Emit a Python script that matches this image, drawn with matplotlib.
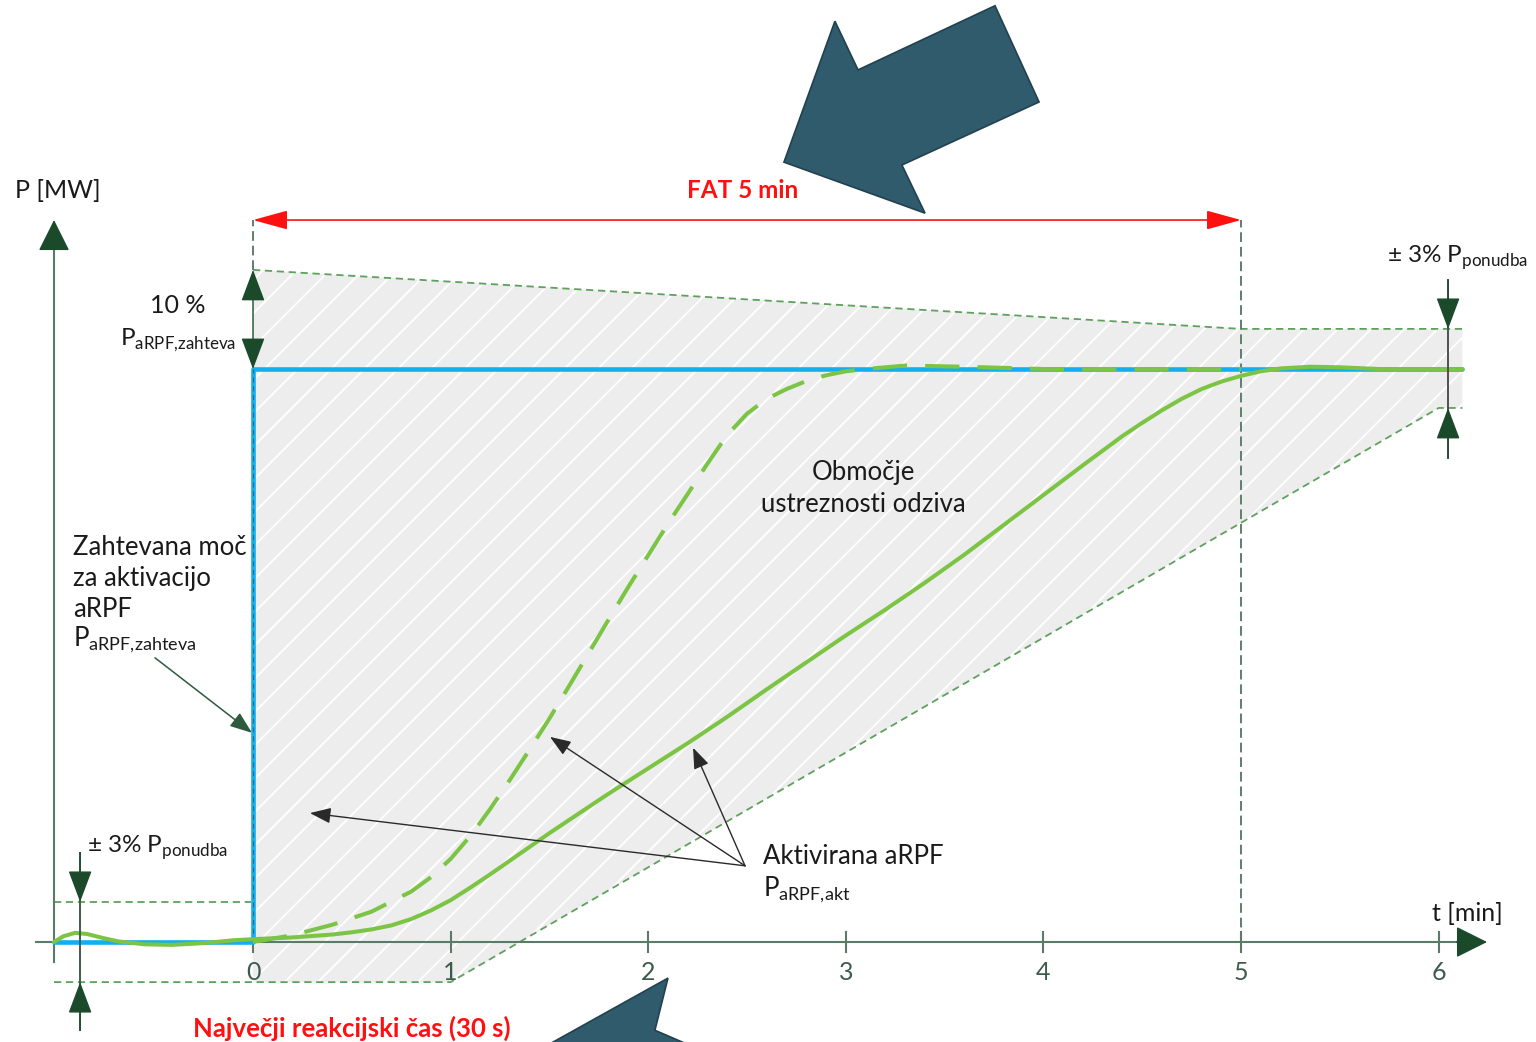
import matplotlib
matplotlib.use("Agg")
import matplotlib.pyplot as plt
from matplotlib.patches import Polygon

plt.rcParams['font.family'] = ['Lato', 'DejaVu Sans']
plt.rcParams['hatch.color'] = 'white'
plt.rcParams['hatch.linewidth'] = 1.3

# time axis [min]
ticks = [0, 1, 2, 3, 4, 5, 6]
tick_labels = ['0', '1', '2', '3', '4', '5', '6']

# requested power (normalised, 1 = P_aRPF,zahteva)
req_t = [-1.007, 0.0, 0.0, 6.12]
req_p = [0.0, 0.0, 1.0, 1.0]

# activated power, solid curve
act_t = [-1.007, -0.96, -0.9, -0.84, -0.76, -0.68, -0.55, -0.41, -0.25, -0.1, 0.0,
         0.2, 0.4, 0.5, 0.6, 0.7, 0.8, 0.9, 1.0, 1.1, 1.2, 1.3, 1.4, 1.5, 1.6, 1.8,
         2.0, 2.2, 2.4, 2.6, 2.8, 3.0, 3.2, 3.4, 3.6, 3.8, 4.0, 4.2, 4.4, 4.5, 4.6,
         4.7, 4.8, 4.9, 5.0, 5.1, 5.2, 5.35, 5.5, 5.7, 6.12]
act_p = [0.0, 0.01, 0.016, 0.014, 0.007, 0.001, -0.004, -0.005, -0.002, 0.003, 0.005,
         0.008, 0.013, 0.017, 0.022, 0.029, 0.04, 0.055, 0.073, 0.095, 0.118, 0.142,
         0.166, 0.19, 0.213, 0.259, 0.303, 0.347, 0.393, 0.441, 0.488, 0.535, 0.58,
         0.627, 0.676, 0.728, 0.78, 0.832, 0.883, 0.906, 0.928, 0.948, 0.965, 0.978,
         0.988, 0.996, 1.001, 1.004, 1.003, 1.0, 1.0]

# activated power, fast response (dashed)
fast_t = [0.0, 0.2, 0.4, 0.6, 0.8, 0.9, 1.0, 1.1, 1.2, 1.3, 1.4, 1.5, 1.6, 1.7, 1.8,
          1.9, 2.0, 2.1, 2.2, 2.3, 2.4, 2.5, 2.6, 2.7, 2.8, 2.9, 3.0, 3.1, 3.3, 3.6,
          4.0, 5.0]
fast_p = [0.0, 0.012, 0.03, 0.053, 0.088, 0.113, 0.145, 0.185, 0.232, 0.283, 0.336,
          0.39, 0.447, 0.505, 0.563, 0.62, 0.675, 0.73, 0.782, 0.835, 0.885, 0.922,
          0.948, 0.965, 0.979, 0.989, 0.996, 1.0, 1.006, 1.004, 1.0, 1.0]

# tolerance area
band_t = [0, 5, 6.12, 6.12, 6.0, 1, 0]
band_p = [1.173, 1.07, 1.07, 0.932, 0.932, -0.07, -0.07]
upper_t = [0, 5, 6.12]
upper_p = [1.173, 1.07, 1.07]
lower_t = [-1.007, 1, 6.0, 6.12]
lower_p = [-0.07, -0.07, 0.932, 0.932]
pre_t = [-1.007, -0.01]
pre_p = [0.07, 0.07]

fat_level = 1.26

AX = '#5B7B68'
DARK = '#1B4A2B'
GREEN = '#7CC444'
BLUE = '#12AFEE'
ENV = '#5FA05F'
TXT = '#1A1A1A'
FS = 18.5

fig = plt.figure(figsize=(15.36, 10.42), dpi=100)
ax = fig.add_axes([0, 0, 1, 1])
ax.set_xlim(-1.2804, 6.4929)
ax.set_ylim(-0.1745, 1.6440)
ax.axis('off')


def arrow(x0, y0, x1, y1, color, lw=1.0, style='-|>', ms=50, z=6):
    ax.annotate('', xy=(x1, y1), xytext=(x0, y0), zorder=z,
                arrowprops=dict(arrowstyle=style, color=color, lw=lw,
                                shrinkA=0, shrinkB=0, mutation_scale=ms))


# band
ax.add_patch(Polygon(list(zip(band_t, band_p)), closed=True, facecolor='#EDEDED',
                     edgecolor='none', zorder=1))
ax.add_patch(Polygon(list(zip(band_t, band_p)), closed=True, facecolor='none',
                     edgecolor='white', lw=0, hatch='/', zorder=1.1))
ax.plot(upper_t, upper_p, color=ENV, lw=1.3, ls=(0, (4, 2.6)), zorder=2)
ax.plot(lower_t, lower_p, color=ENV, lw=1.3, ls=(0, (4, 2.6)), zorder=2)
ax.plot(pre_t, pre_p, color=ENV, lw=1.3, ls=(0, (4, 2.6)), zorder=2)

# vertical guides
ax.plot([5, 5], [0, fat_level], color='#5E7E6E', lw=1.4, ls=(0, (5, 2.5)), zorder=2)
ax.plot([0, 0], [1.173, fat_level], color='#5E7E6E', lw=1.4, ls=(0, (5, 2.5)), zorder=2)

# axes
ax.plot([-1.10, 6.12], [0, 0], color=AX, lw=1.5, zorder=3)
arrow(6.09, 0, 6.245, 0, DARK, lw=1, ms=50, z=3)
ax.plot([-1.007, -1.007], [-0.035, 1.22], color=AX, lw=1.5, zorder=3)
arrow(-1.007, 1.21, -1.007, fat_level, DARK, lw=1, ms=50, z=3)
for t, lab in zip(ticks, tick_labels):
    ax.plot([t, t], [-0.018, 0.018], color=AX, lw=1.5, zorder=3)
    ax.text(t, -0.053, lab, ha='center', va='center', fontsize=18,
            color='#3D5B4C', zorder=7)

# requested power
ax.plot(req_t, req_p, color=BLUE, lw=3.3, zorder=4, solid_capstyle='round')
ax.plot([0, 0], [0, 1.0], color='#3C6A80', lw=0.9, ls=(0, (4, 3)), zorder=4.5)

# responses
ax.plot(act_t, act_p, color=GREEN, lw=2.9, zorder=5, solid_capstyle='round',
        solid_joinstyle='round')
ax.plot(fast_t, fast_p, color=GREEN, lw=2.9, ls=(0, (8.5, 4.5)), zorder=5,
        dash_joinstyle='round')

# FAT arrow
arrow(0, fat_level, 5, fat_level, '#FF1010', lw=1.2,
      style='<|-|>,head_length=0.4,head_width=0.11', ms=54)
ax.text(2.48, 1.312, 'FAT 5 min', color='#FF1010', fontsize=17.5, fontweight='bold',
        ha='center', va='center')

# dimension arrows
arrow(0, 1.173, 0, 1.0, DARK, lw=1, style='<|-|>,head_length=0.4,head_width=0.15', ms=50)
ax.plot([6.048, 6.048], [0.845, 1.155], color='#505050', lw=1.4, zorder=6)
arrow(6.048, 1.155, 6.048, 1.07, DARK, style='-|>,head_length=0.4,head_width=0.15')
arrow(6.048, 0.845, 6.048, 0.932, DARK, style='-|>,head_length=0.4,head_width=0.15')
ax.plot([-0.875, -0.875], [-0.154, 0.156], color='#3E5E4A', lw=1.4, zorder=6)
arrow(-0.875, 0.156, -0.875, 0.07, DARK, style='-|>,head_length=0.4,head_width=0.15')
arrow(-0.875, -0.154, -0.875, -0.07, DARK, style='-|>,head_length=0.4,head_width=0.15')

# labels
ax.text(-0.99, 1.312, 'P [MW]', fontsize=18, color=TXT, ha='center', va='center')
ax.text(6.144, 0.049, 't [min]', fontsize=18, color=TXT, ha='center', va='center')
ax.text(-0.38, 1.11, '10 %', fontsize=18, color=TXT, ha='center', va='center')
ax.text(-0.675, 1.05, r'P$_{\mathregular{aRPF{,}zahteva}}$', fontsize=17.5, color=TXT,
        ha='left', va='center')
for txt, v in [('Zahtevana moč', 0.688), ('za aktivacijo', 0.634), ('aRPF', 0.581)]:
    ax.text(-0.911, v, txt, fontsize=FS, color=TXT, ha='left', va='center')
ax.text(-0.911, 0.527, r'P$_{\mathregular{aRPF{,}zahteva}}$', fontsize=FS, color=TXT,
        ha='left', va='center')
arrow(-0.496, 0.496, -0.005, 0.365, '#2E5A3E', lw=1.1,
      style='-|>,head_length=0.4,head_width=0.15', ms=34)

ax.text(3.087, 0.820, 'Območje', fontsize=FS, color=TXT, ha='center', va='center')
ax.text(3.087, 0.763, 'ustreznosti odziva', fontsize=FS, color=TXT, ha='center',
        va='center')

ax.text(2.58, 0.150, 'Aktivirana aRPF', fontsize=FS, color=TXT, ha='left', va='center')
ax.text(2.58, 0.091, r'P$_{\mathregular{aRPF{,}akt}}$', fontsize=FS, color=TXT,
        ha='left', va='center')
for tx, ty in [(0.288, 0.225), (1.503, 0.358), (2.227, 0.339)]:
    arrow(2.49, 0.133, tx, ty, '#2A2A2A', lw=1.0,
          style='-|>,head_length=0.4,head_width=0.15', ms=32)

ax.text(5.74, 1.194, r'± 3% P$_{\mathregular{ponudba}}$', fontsize=17.5, color=TXT,
        ha='left', va='center')
ax.text(-0.84, 0.164, r'± 3% P$_{\mathregular{ponudba}}$', fontsize=17.5, color=TXT,
        ha='left', va='center')

ax.text(0.50, -0.150, 'Največji reakcijski čas (30 s)', color='#FF1010', fontsize=18.5,
        fontweight='bold', ha='center', va='center')

# big callout arrows
top_arrow = [(2.687, 1.361), (2.945, 1.607), (3.062, 1.522), (3.755, 1.634),
             (3.978, 1.466), (3.284, 1.356), (3.401, 1.272)]
bottom_arrow = [(1.402, -0.197), (2.100, -0.063), (2.034, -0.154), (2.262, -0.188)]
for pts in (top_arrow, bottom_arrow):
    ax.add_patch(Polygon(pts, closed=True, facecolor='#2F5B6D', edgecolor='#22414E',
                         lw=1.2, zorder=10))

fig.savefig('out.png', dpi=100, facecolor='white')
